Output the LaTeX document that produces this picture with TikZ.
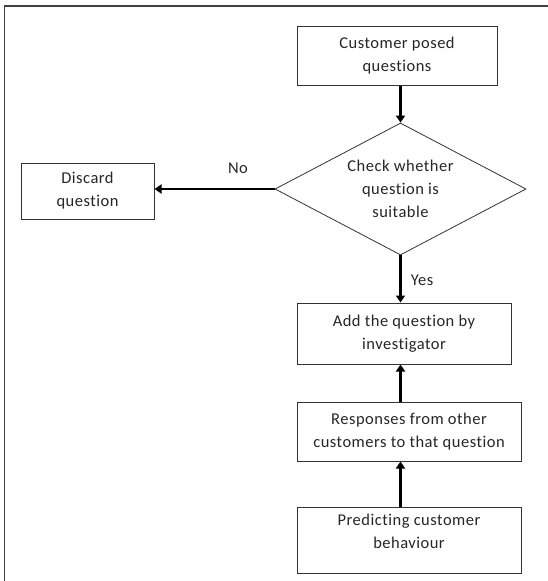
\documentclass[tikz,border=0pt]{standalone}
\usepackage{fontspec}
\setmainfont{Carlito}[LetterSpace=3, Ligatures=NoCommon]
\usetikzlibrary{arrows.meta,shapes.geometric}
\begin{document}
\begin{tikzpicture}[x=1pt,y=-1pt,
  txt/.style={font=\fontsize{16.5}{23}\selectfont, text=black!85},
  box/.style={txt, draw=black!80, line width=1pt, fill=white, align=center, inner sep=0pt},
  decision/.style={txt, diamond, aspect=1.9, draw=black!80, line width=0.8pt, fill=white, align=center, inner sep=0pt},
  flow/.style={line width=2.7pt, -{Triangle[length=7pt,width=9pt]}}]
\useasboundingbox (0,0) rectangle (548,581);
% outer frame (only its left and top sides fall inside the page)
\draw[line width=1.5pt, black!75] (4.5,600) -- (4.5,6) -- (600,6);

% process boxes
\node[box, minimum width=200pt, minimum height=59pt] (pose) at (397,55.5) {Customer posed\\questions};
\node[decision, minimum width=251pt, minimum height=132pt] (check) at (400.5,189) {Check whether\\question is\\suitable};
\node[box, minimum width=133pt, minimum height=56pt] (disc) at (87.5,191) {Discard\\question};
\node[box, minimum width=214pt, minimum height=61pt] (add) at (404,333.5) {Add the question by\\investigator};
\node[box, minimum width=224pt, minimum height=59pt] (resp) at (409,431.5) {Responses from other\\customers to that question};
\node[box, minimum width=224pt, minimum height=66pt] (pred) at (409,540) {Predicting customer\\behaviour\\[-6pt]\mbox{}};

% branch labels
\node[txt] (no) at (238,168) {No};
\node[txt] (yes) at (422,280) {Yes};

% connectors
\draw[flow] (pose.south -| check.north) -- (check.north);
\draw[flow] (check.west) -- (check.west -| disc.east);
\draw[flow] (check.south) -- (check.south |- add.north);
\draw[flow] (resp.north -| check.south) -- (add.south -| check.south);
\draw[flow] (pred.north -| check.south) -- (resp.south -| check.south);
\end{tikzpicture}
\end{document}
